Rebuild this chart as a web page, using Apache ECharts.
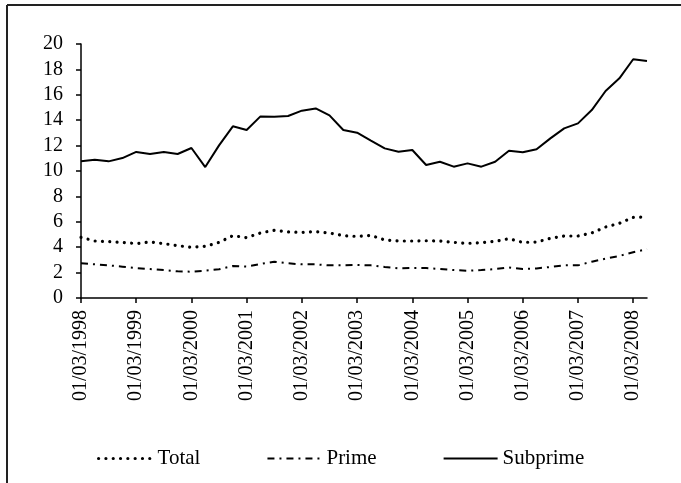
<!DOCTYPE html>
<html>
<head>
<meta charset="utf-8">
<script src="https://cdn.jsdelivr.net/npm/echarts@6/dist/echarts.min.js"></script>
<style>
html,body{margin:0;padding:0;background:#fff;}
#c{width:681px;height:483px;}
</style>
</head>
<body>
<div id="c"></div>
<script>
const categories = [
"01/03/1998","01/06/1998","01/09/1998","01/12/1998",
"01/03/1999","01/06/1999","01/09/1999","01/12/1999",
"01/03/2000","01/06/2000","01/09/2000","01/12/2000",
"01/03/2001","01/06/2001","01/09/2001","01/12/2001",
"01/03/2002","01/06/2002","01/09/2002","01/12/2002",
"01/03/2003","01/06/2003","01/09/2003","01/12/2003",
"01/03/2004","01/06/2004","01/09/2004","01/12/2004",
"01/03/2005","01/06/2005","01/09/2005","01/12/2005",
"01/03/2006","01/06/2006","01/09/2006","01/12/2006",
"01/03/2007","01/06/2007","01/09/2007","01/12/2007",
"01/03/2008","01/06/2008"
];
const totalValues = [4.78,4.49,4.44,4.38,4.28,4.41,4.28,4.12,3.99,4.07,4.38,4.91,4.75,5.12,5.33,5.20,5.17,5.22,5.12,4.91,4.85,4.93,4.57,4.49,4.49,4.51,4.49,4.38,4.30,4.36,4.46,4.67,4.38,4.41,4.70,4.88,4.88,5.12,5.59,5.88,6.35,6.38];
const primeValues = [2.73,2.65,2.57,2.47,2.36,2.28,2.20,2.10,2.07,2.15,2.26,2.52,2.47,2.68,2.86,2.73,2.65,2.65,2.57,2.57,2.60,2.57,2.44,2.33,2.36,2.36,2.28,2.20,2.15,2.20,2.28,2.41,2.28,2.33,2.44,2.57,2.57,2.86,3.10,3.31,3.60,3.85];
const subprimeValues = [10.76,10.89,10.76,11.02,11.50,11.34,11.50,11.34,11.81,10.31,12.02,13.52,13.23,14.30,14.27,14.33,14.75,14.93,14.38,13.23,13.02,12.39,11.78,11.52,11.65,10.47,10.73,10.34,10.60,10.34,10.73,11.60,11.47,11.71,12.57,13.36,13.75,14.80,16.30,17.30,18.80,18.66];
const yTicks = {min: 0, max: 20, interval: 2};
const seriesNames = ["Total", "Prime", "Subprime"];

const FONT = "'Liberation Serif', 'Times New Roman', serif";
const chart = echarts.init(document.getElementById('c'), null, {renderer: 'canvas'});

const styles = {
  Total: {color: '#000', width: 3.2, type: [0.01, 7.3], cap: 'round'},
  Prime: {color: '#000', width: 2, type: [7, 5, 2, 5], cap: 'butt'},
  Subprime: {color: '#000', width: 2, type: 'solid', cap: 'butt'}
};
const seriesData = {Total: totalValues, Prime: primeValues, Subprime: subprimeValues};

const option = {
  animation: false,
  backgroundColor: '#fff',
  grid: {left: 81, right: 34, top: 44, bottom: 185, containLabel: false},
  xAxis: {
    type: 'category',
    data: categories,
    boundaryGap: false,
    axisLine: {lineStyle: {color: '#000', width: 1.5}},
    axisTick: {show: true, interval: 3, length: 5, inside: false, lineStyle: {color: '#000', width: 1.5}},
    axisLabel: {interval: 3, rotate: 90, margin: 12, color: '#000', fontFamily: FONT, fontSize: 20},
    splitLine: {show: false}
  },
  yAxis: {
    type: 'value',
    min: yTicks.min, max: yTicks.max, interval: yTicks.interval,
    axisLine: {show: true, lineStyle: {color: '#000', width: 1.5}},
    axisTick: {show: true, length: 5, lineStyle: {color: '#000', width: 1.5}},
    axisLabel: {margin: 18, color: '#000', fontFamily: FONT, fontSize: 20},
    splitLine: {show: false}
  },
  legend: {
    data: seriesNames.map(n => ({name: n, lineStyle: {width: styles[n].width, type: styles[n].type, cap: styles[n].cap, color: '#000'}})),
    orient: 'horizontal',
    left: 92,
    top: 443,
    itemWidth: 54,
    itemHeight: 14,
    itemGap: 66,
    itemStyle: {opacity: 0},
    textStyle: {color: '#000', fontFamily: FONT, fontSize: 21},
    selectedMode: false
  },
  graphic: [
    {type: 'line', shape: {x1: 7, y1: 5, x2: 7, y2: 483}, style: {stroke: '#222', lineWidth: 2}},
    {type: 'line', shape: {x1: 7, y1: 5, x2: 681, y2: 5}, style: {stroke: '#222', lineWidth: 2}}
  ],
  series: seriesNames.map(n => ({
    name: n,
    type: 'line',
    data: seriesData[n],
    symbol: 'none',
    smooth: false,
    lineStyle: styles[n],
    itemStyle: {color: '#000'}
  }))
};
chart.setOption(option);
</script>
</body>
</html>
